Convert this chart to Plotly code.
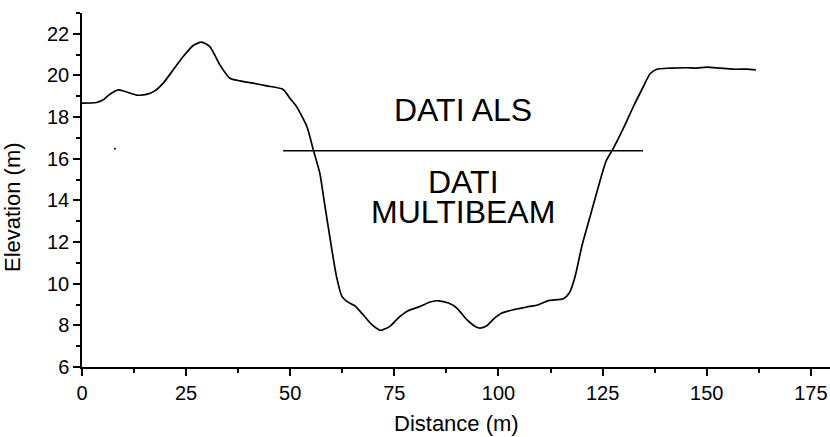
import plotly.graph_objects as go

# Profile data (Distance m, Elevation m)
distance = [0.0, 3.5, 5.1, 6.7, 8.7, 10.3, 13.1, 15.5, 17.5, 19.5, 21.9, 24.3, 26.7, 28.7, 30.7,
            33.1, 35.5, 37.9, 41.1, 44.3, 48.3, 49.9, 51.5, 54.0, 55.6, 57.1, 58.1, 60.0, 61.1,
            62.4, 63.6, 65.5, 67.5, 69.6, 71.7, 73.9, 75.9, 78.3, 81.2, 83.6, 85.6, 88.0, 90.0,
            92.4, 94.4, 95.6, 97.2, 98.8, 100.8, 103.6, 106.8, 109.6, 112.0, 115.6, 117.0,
            118.4, 120.0, 122.0, 124.0, 125.8, 127.6, 130.0, 132.4, 134.8, 136.4, 138.0,
            141.2, 145.2, 147.6, 150.0, 153.2, 156.4, 159.6, 161.8]
elevation = [18.67, 18.70, 18.83, 19.10, 19.31, 19.23, 19.06, 19.09, 19.26, 19.63, 20.27, 20.91,
             21.44, 21.60, 21.39, 20.51, 19.87, 19.74, 19.63, 19.50, 19.33, 18.91, 18.51, 17.55,
             16.38, 15.31, 14.03, 11.63, 10.35, 9.39, 9.15, 8.94, 8.51, 8.03, 7.76, 7.95, 8.35,
             8.70, 8.91, 9.12, 9.18, 9.07, 8.83, 8.27, 7.95, 7.87, 7.98, 8.30, 8.59, 8.75, 8.88,
             8.99, 9.19, 9.28, 9.55, 10.35, 11.79, 13.23, 14.67, 15.87, 16.51, 17.47, 18.51,
             19.47, 20.08, 20.30, 20.35, 20.37, 20.35, 20.40, 20.35, 20.30, 20.30, 20.27]

# Boundary line between ALS and multibeam data
boundary_x = [48.3, 134.7]
boundary_y = [16.38, 16.38]

# Stray point
dot_x = [7.9]
dot_y = [16.48]

x_ticks = [0, 25, 50, 75, 100, 125, 150, 175]
x_minor = [12.5, 37.5, 62.5, 87.5, 112.5, 137.5, 162.5]
y_ticks = [6, 8, 10, 12, 14, 16, 18, 20, 22]
y_minor = [7, 9, 11, 13, 15, 17, 19, 21, 23]

label_als = "DATI ALS"
label_mb1 = "DATI"
label_mb2 = "MULTIBEAM"
x_title = "Distance (m)"
y_title = "Elevation (m)"

FONT = "Liberation Sans, Arial, sans-serif"

fig = go.Figure()
fig.add_trace(go.Scatter(x=distance, y=elevation, mode="lines",
                         line=dict(color="black", width=1.7, shape="spline", smoothing=0.6),
                         showlegend=False, hoverinfo="skip"))
fig.add_trace(go.Scatter(x=boundary_x, y=boundary_y, mode="lines",
                         line=dict(color="black", width=1.5),
                         showlegend=False, hoverinfo="skip"))
fig.add_trace(go.Scatter(x=dot_x, y=dot_y, mode="markers",
                         marker=dict(color="black", size=2),
                         showlegend=False, hoverinfo="skip"))

txt_font = dict(size=32, color="black", family=FONT)
fig.add_annotation(x=91.5, y=18.36, text=label_als, showarrow=False, font=txt_font,
                   yanchor="middle", height=28)
fig.add_annotation(x=91.5, y=14.88, text=label_mb1, showarrow=False, font=txt_font,
                   yanchor="middle", height=26)
fig.add_annotation(x=91.5, y=13.45, text=label_mb2, showarrow=False, font=txt_font,
                   yanchor="middle", height=26)

title_font = dict(size=22, color="black", family=FONT)
fig.add_annotation(xref="paper", yref="paper", x=0.5, y=-0.1596, text=x_title, showarrow=False,
                   font=title_font, xanchor="center", yanchor="middle")
fig.add_annotation(xref="paper", yref="paper", x=-0.0922, y=0.452, text=y_title, showarrow=False,
                   font=title_font, textangle=-90, xanchor="center", yanchor="middle")

fig.update_layout(
    width=830, height=437,
    margin=dict(l=82, r=0, t=13, b=70),
    plot_bgcolor="white", paper_bgcolor="white",
    font=dict(family=FONT, color="black"),
    xaxis=dict(range=[0, 179.6], tickmode="array", tickvals=x_ticks, automargin=False,
               showgrid=False, zeroline=False, showline=True, linecolor="black", linewidth=1.5,
               ticks="outside", ticklen=7, tickwidth=1.5, tickcolor="black",
               tickfont=dict(size=20, family=FONT),
               minor=dict(tickmode="array", tickvals=x_minor,
                          ticks="outside", ticklen=4, tickwidth=1.5, tickcolor="black", showgrid=False)),
    yaxis=dict(range=[6, 23], tickmode="array", tickvals=y_ticks, automargin=False,
               showgrid=False, zeroline=False, showline=True, linecolor="black", linewidth=1.5,
               ticks="outside", ticklen=7, tickwidth=1.5, tickcolor="black",
               tickfont=dict(size=20, family=FONT),
               minor=dict(tickmode="array", tickvals=y_minor,
                          ticks="outside", ticklen=4, tickwidth=1.5, tickcolor="black", showgrid=False)),
)

fig.write_html("out.html", config={"displayModeBar": False},
               post_script="document.body.style.margin='0';")
